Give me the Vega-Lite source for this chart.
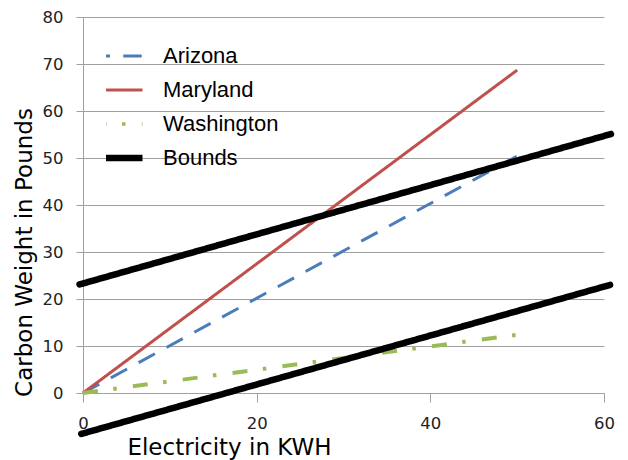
{
  "$schema": "https://vega.github.io/schema/vega-lite/v6.json",
  "width": 521,
  "height": 376,
  "autosize": {"type": "none"},
  "padding": {"left": 83, "top": 17, "right": 24, "bottom": 67},
  "background": "white",
  "config": {"view": {"stroke": null}, "font": "Liberation Sans"},
  "data": {"values": [
    {"series": "Arizona", "line": "Arizona", "kwh": 0, "lbs": 0},
    {"series": "Arizona", "line": "Arizona", "kwh": 50, "lbs": 50.4},
    {"series": "Maryland", "line": "Maryland", "kwh": 0, "lbs": 0},
    {"series": "Maryland", "line": "Maryland", "kwh": 50, "lbs": 68.7},
    {"series": "Washington", "line": "Washington", "kwh": 0, "lbs": 0},
    {"series": "Washington", "line": "Washington", "kwh": 50, "lbs": 12.4},
    {"series": "Bounds", "line": "Upper bound", "kwh": -0.4, "lbs": 23.1},
    {"series": "Bounds", "line": "Upper bound", "kwh": 60.8, "lbs": 55.1},
    {"series": "Bounds", "line": "Lower bound", "kwh": -0.2, "lbs": -8.7},
    {"series": "Bounds", "line": "Lower bound", "kwh": 60.7, "lbs": 23.0}
  ]},
  "encoding": {
    "x": {
      "field": "kwh", "type": "quantitative",
      "scale": {"domain": [0, 60], "nice": false, "zero": false},
      "axis": {
        "title": "Electricity in KWH", "values": [0, 20, 40, 60], "grid": false,
        "tickSize": 9, "labelPadding": 13, "labelFlush": false, "labelOverlap": false,
        "labelFont": "DejaVu Sans", "labelFontSize": 16.5, "labelColor": "#222222",
        "titleFont": "DejaVu Sans", "titleFontSize": 23, "titleFontWeight": "normal", "titleColor": "#000000",
        "titleX": 146, "titleY": 61, "titleBaseline": "alphabetic", "titleAlign": "center",
        "domainColor": "#a0a0a0", "tickColor": "#a0a0a0", "domainWidth": 1, "tickWidth": 1
      }
    },
    "y": {
      "field": "lbs", "type": "quantitative",
      "scale": {"domain": [0, 80], "nice": false},
      "axis": {
        "title": "Carbon Weight in Pounds", "values": [0, 10, 20, 30, 40, 50, 60, 70, 80], "grid": true,
        "gridColor": "#a0a0a0", "gridWidth": 1,
        "tickSize": 7, "labelPadding": 13,
        "labelFont": "DejaVu Sans", "labelFontSize": 16.5, "labelColor": "#222222",
        "titleFont": "DejaVu Sans", "titleFontSize": 23, "titleFontWeight": "normal", "titleColor": "#000000",
        "titleX": -59, "titleY": 235, "titleBaseline": "middle", "titleAlign": "center", "titleAngle": -90,
        "domainColor": "#a0a0a0", "tickColor": "#a0a0a0", "domainWidth": 1, "tickWidth": 1
      }
    },
    "color": {
      "field": "series", "type": "nominal",
      "scale": {"domain": ["Arizona", "Maryland", "Washington", "Bounds"], "range": ["#4a7ebb", "#c0504d", "#9bbb59", "#000000"]},
      "legend": {
        "title": null, "orient": "none", "legendX": 23, "legendY": 22, "padding": 0,
        "symbolType": "stroke", "symbolSize": 2600, "clipHeight": 34, "rowPadding": 0, "symbolOffset": 0,
        "labelFont": "Liberation Sans", "labelFontSize": 22, "labelColor": "#000000", "labelOffset": 35,
        "encode": {"symbols": {"update": {
          "strokeWidth": {"signal": "datum.value === 'Bounds' ? 6.5 : datum.value === 'Washington' ? 3.5 : 3"},
          "strokeDash": {"signal": "datum.value === 'Arizona' ? [18, 13] : datum.value === 'Washington' ? [17, 14, 3.5, 14] : [1, 0]"},
          "strokeDashOffset": {"value": 0}
        }}}
      }
    },
    "strokeDash": {
      "field": "series", "type": "nominal",
      "scale": {"domain": ["Arizona", "Maryland", "Washington", "Bounds"], "range": [[18.5, 13.2], [1, 0], [15, 15.5, 3.5, 16.3], [1, 0]]},
      "legend": {
        "title": null, "orient": "none", "legendX": 23, "legendY": 22, "padding": 0,
        "symbolType": "stroke", "symbolSize": 2600, "clipHeight": 34, "rowPadding": 0, "symbolOffset": 0,
        "labelFont": "Liberation Sans", "labelFontSize": 22, "labelColor": "#000000", "labelOffset": 35,
        "encode": {"symbols": {"update": {
          "strokeWidth": {"signal": "datum.value === 'Bounds' ? 6.5 : datum.value === 'Washington' ? 3.5 : 3"},
          "strokeDash": {"signal": "datum.value === 'Arizona' ? [18, 13] : datum.value === 'Washington' ? [17, 14, 3.5, 14] : [1, 0]"},
          "strokeDashOffset": {"value": 0}
        }}}
      }
    },
    "detail": {"field": "line", "type": "nominal"}
  },
  "layer": [
    {
      "transform": [{"filter": "datum.series !== 'Bounds'"}],
      "mark": {"type": "line", "strokeCap": "butt"},
      "encoding": {
        "strokeWidth": {"condition": {"test": "datum.series === 'Washington'", "value": 4}, "value": 3}
      }
    },
    {
      "transform": [{"filter": "datum.series === 'Bounds'"}],
      "mark": {"type": "line", "strokeCap": "round", "strokeWidth": 6.5}
    }
  ]
}
